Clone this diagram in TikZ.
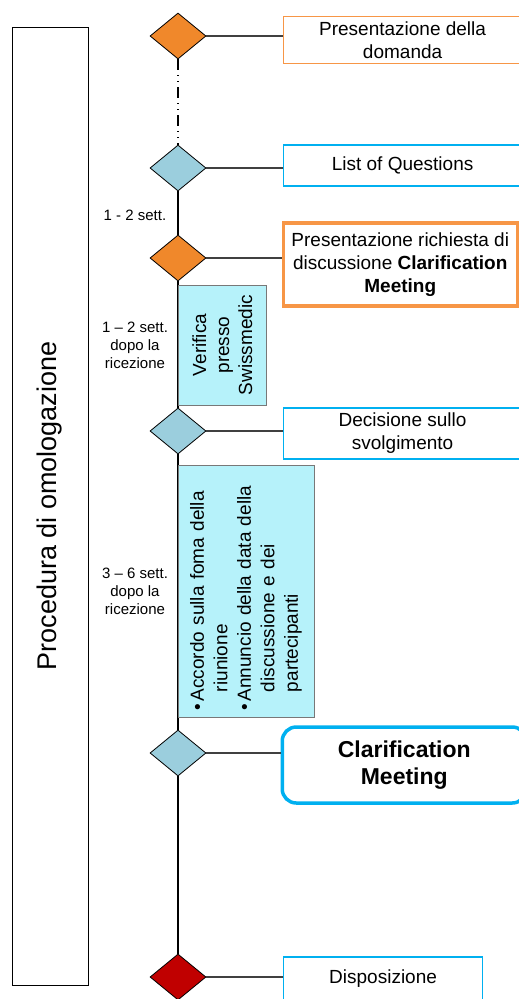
\documentclass[tikz,border=0pt]{standalone}
\usepackage{fontspec}
\setmainfont{Liberation Sans}
\usetikzlibrary{shapes.geometric, positioning}
\definecolor{stageorange}{RGB}{240, 136, 43}
\definecolor{stageblue}{RGB}{155, 206, 221}
\definecolor{stagered}{RGB}{192, 0, 0}
\definecolor{frameorange}{RGB}{247, 150, 70}
\definecolor{frameblue}{RGB}{0, 176, 240}
\definecolor{taskcyan}{RGB}{182, 242, 250}
\definecolor{taskgray}{RGB}{120, 120, 120}

\begin{document}
\begin{tikzpicture}[x=1pt, y=-1pt,
    milestone/.style={diamond, draw=black, line width=0.8pt, minimum width=56pt, minimum height=46pt, inner sep=0pt},
    event/.style={draw, fill=white, anchor=west, align=center, inner sep=0pt, font=\fontsize{19}{23}\selectfont},
    task/.style={draw=taskgray, fill=taskcyan, line width=1pt, rotate=90, inner sep=0pt, font=\fontsize{19}{23}\selectfont},
    weeks/.style={align=center, font=\fontsize{15}{18}\selectfont},
    phase/.style={draw, line width=1pt, rotate=90, minimum width=958pt, minimum height=76pt, font=\fontsize{27}{32}\selectfont},
    spine/.style={line width=1.2pt},
    link/.style={line width=1.2pt, draw=black!75}
]
\useasboundingbox (0,0) rectangle (519,999);
\clip (0,0) rectangle (519,999);

% Phase frame
\node[phase] (phase) at (50, 506) {Procedura di omologazione};

% Milestones
\node[milestone, fill=stageorange] (submit) at (178, 36) {};
\node[milestone, fill=stageblue] (questions) at (178, 168) {};
\node[milestone, fill=stageorange] (request) at (178, 258) {};
\node[milestone, fill=stageblue] (decision) at (178, 431) {};
\node[milestone, fill=stageblue] (meeting) at (178, 753) {};
\node[milestone, fill=stagered] (ruling) at (178, 977) {};

% Spine
\draw[spine, dash pattern=on 11pt off 5pt on 1pt off 5pt on 1pt off 5pt] (submit.south) -- (questions.north);
\draw[spine] (questions.south) -- (request.north);
\draw[spine] (request.south) -- (decision.north);
\draw[spine] (decision.south) -- (meeting.north);
\draw[spine] (meeting.south) -- (ruling.north);

% Events
\node[event, draw=frameorange, line width=1.2pt, minimum width=238pt, minimum height=47pt] (submitbox) at (283, 40) {Presentazione della\\domanda};
\node[event, draw=frameblue, line width=1.2pt, minimum width=238pt, minimum height=41pt] (questionsbox) at (283, 165.5) {List of Questions};
\node[event, draw=frameorange, line width=3.5pt, minimum width=234pt, minimum height=83pt] (requestbox) at (281.5, 264.5) {Presentazione richiesta di\\discussione \textbf{Clarification}\\\textbf{Meeting}};
\node[event, draw=frameblue, line width=1.2pt, minimum width=238pt, minimum height=51pt] (decisionbox) at (283, 433.5) {Decisione sullo\\svolgimento};
\node[event, draw=frameblue, line width=3.5pt, rounded corners=14pt, minimum width=244pt, minimum height=76pt, font=\fontsize{23}{27}\selectfont\bfseries] (meetingbox) at (280.5, 765) {Clarification\\Meeting};
\node[event, draw=frameblue, line width=1.2pt, minimum width=199pt, minimum height=44pt] (rulingbox) at (283, 979) {Disposizione};

% Links
\draw[link] (submit.east) -- (submit.east -| submitbox.west);
\draw[link] (questions.east) -- (questions.east -| questionsbox.west);
\draw[link] (request.east) -- (request.east -| requestbox.west);
\draw[link] (decision.east) -- (decision.east -| decisionbox.west);
\draw[link] (meeting.east) -- (meeting.east -| meetingbox.west);
\draw[link] (ruling.east) -- (ruling.east -| rulingbox.west);

% Tasks
\node[task, align=center, minimum width=120pt, minimum height=88.5pt] (check) at (222.4, 345) {Verifica\\presso\\Swissmedic};
\node[task, align=left, text width=238pt, minimum width=252pt, minimum height=136pt, font=\fontsize{19}{23.5}\selectfont] (agree) at (246, 591) {\textbullet\hspace{2pt}Accordo sulla foma della\\\hspace*{18pt}riunione\\\textbullet\hspace{2pt}Annuncio della data della\\\hspace*{18pt}discussione e dei\\\hspace*{18pt}partecipanti};

% Durations
\node[weeks] (span1) at (135, 215) {1 - 2 sett.};
\node[weeks] (span2) at (135, 345) {1 – 2 sett.\\dopo la\\ricezione};
\node[weeks] (span3) at (135, 591) {3 – 6 sett.\\dopo la\\ricezione};

\end{tikzpicture}
\end{document}
